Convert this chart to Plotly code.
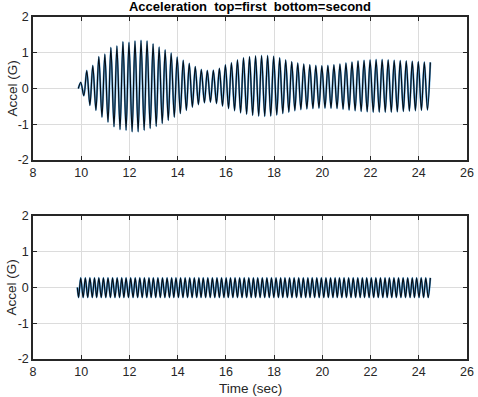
import plotly.graph_objects as go

# ---------------- data ----------------
# Top ("first"): start point, then alternating peaks (maxima / minima)
top_start_t = [9.88]
top_start_v = [0.0]

top_max_t = [9.98, 10.23, 10.48, 10.73, 10.98, 11.23, 11.48, 11.73, 11.98, 12.23,
             12.48, 12.73, 12.98, 13.23, 13.48, 13.73, 13.98, 14.23, 14.48, 14.73,
             14.98, 15.23, 15.48, 15.73, 15.98, 16.23, 16.48, 16.73, 16.98, 17.23,
             17.48, 17.73, 17.98, 18.23, 18.48, 18.73, 18.98, 19.23, 19.48, 19.73,
             19.98, 20.23, 20.48, 20.73, 20.98, 21.23, 21.48, 21.73, 21.98, 22.23,
             22.48, 22.73, 22.98, 23.23, 23.48, 23.73, 23.98, 24.23, 24.48]
top_max_v = [0.17, 0.50, 0.64, 0.89, 0.96, 1.15, 1.19, 1.31, 1.29, 1.33,
             1.35, 1.33, 1.25, 1.16, 1.08, 0.99, 0.88, 0.79, 0.70, 0.61,
             0.53, 0.50, 0.51, 0.56, 0.66, 0.72, 0.80, 0.86, 0.89, 0.91,
             0.92, 0.92, 0.90, 0.86, 0.80, 0.75, 0.71, 0.68, 0.66, 0.64,
             0.63, 0.64, 0.66, 0.68, 0.71, 0.74, 0.77, 0.79, 0.80, 0.81,
             0.81, 0.80, 0.79, 0.78, 0.77, 0.76, 0.75, 0.74, 0.73]
top_min_t = [10.11, 10.36, 10.61, 10.86, 11.11, 11.36, 11.61, 11.86, 12.11, 12.36,
             12.61, 12.86, 13.11, 13.36, 13.61, 13.86, 14.11, 14.36, 14.61, 14.86,
             15.11, 15.36, 15.61, 15.86, 16.11, 16.36, 16.61, 16.86, 17.11, 17.36,
             17.61, 17.86, 18.11, 18.36, 18.61, 18.86, 19.11, 19.36, 19.61, 19.86,
             20.11, 20.36, 20.61, 20.86, 21.11, 21.36, 21.61, 21.86, 22.11, 22.36,
             22.61, 22.86, 23.11, 23.36, 23.61, 23.86, 24.11, 24.36]
top_min_v = [-0.20, -0.47, -0.61, -0.80, -0.94, -1.07, -1.15, -1.17, -1.21, -1.21,
             -1.17, -1.12, -1.06, -0.98, -0.89, -0.80, -0.70, -0.61, -0.52, -0.45,
             -0.40, -0.38, -0.42, -0.49, -0.56, -0.62, -0.68, -0.72, -0.75, -0.77,
             -0.78, -0.77, -0.74, -0.70, -0.66, -0.62, -0.59, -0.57, -0.56, -0.55,
             -0.55, -0.55, -0.56, -0.58, -0.60, -0.62, -0.64, -0.65, -0.66, -0.66,
             -0.66, -0.66, -0.65, -0.64, -0.63, -0.62, -0.61, -0.60]

# Bottom ("second"): constant-amplitude oscillation
bot_start_t = [9.84]
bot_start_v = [0.0]
bot_min_t = [9.89, 10.08, 10.27, 10.46, 10.64, 10.83, 11.02, 11.21, 11.40, 11.59,
             11.77, 11.96, 12.15, 12.34, 12.53, 12.72, 12.90, 13.09, 13.28, 13.47,
             13.66, 13.84, 14.03, 14.22, 14.41, 14.60, 14.79, 14.97, 15.16, 15.35,
             15.54, 15.73, 15.92, 16.10, 16.29, 16.48, 16.67, 16.86, 17.05, 17.23,
             17.42, 17.61, 17.80, 17.99, 18.18, 18.36, 18.55, 18.74, 18.93, 19.12,
             19.31, 19.49, 19.68, 19.87, 20.06, 20.25, 20.44, 20.62, 20.81, 21.00,
             21.19, 21.38, 21.57, 21.75, 21.94, 22.13, 22.32, 22.51, 22.69, 22.88,
             23.07, 23.26, 23.45, 23.64, 23.82, 24.01, 24.20, 24.39]
bot_min_v = [-0.28] * 78
bot_max_t = [9.98, 10.17, 10.36, 10.55, 10.73, 10.92, 11.11, 11.30, 11.49, 11.68,
             11.86, 12.05, 12.24, 12.43, 12.62, 12.81, 12.99, 13.18, 13.37, 13.56,
             13.75, 13.93, 14.12, 14.31, 14.50, 14.69, 14.88, 15.06, 15.25, 15.44,
             15.63, 15.82, 16.01, 16.19, 16.38, 16.57, 16.76, 16.95, 17.14, 17.32,
             17.51, 17.70, 17.89, 18.08, 18.27, 18.45, 18.64, 18.83, 19.02, 19.21,
             19.40, 19.58, 19.77, 19.96, 20.15, 20.34, 20.53, 20.71, 20.90, 21.09,
             21.28, 21.47, 21.66, 21.84, 22.03, 22.22, 22.41, 22.60, 22.78, 22.97,
             23.16, 23.35, 23.54, 23.73, 23.91, 24.10, 24.29, 24.48]
bot_max_v = [0.27] * 78

x_ticks = [8, 10, 12, 14, 16, 18, 20, 22, 24, 26]
x_tick_labels = ["8", "10", "12", "14", "16", "18", "20", "22", "24", "26"]
y_ticks = [-2, -1, 0, 1, 2]
y_tick_labels = ["-2", "-1", "0", "1", "2"]

title_text = "Acceleration  top=first  bottom=second"
y_label = "Accel (G)"
x_label = "Time (sec)"


def merge(st, sv, at, av, bt, bv):
    pts = list(zip(st, sv)) + list(zip(at, av)) + list(zip(bt, bv))
    pts.sort(key=lambda p: p[0])
    return [p[0] for p in pts], [p[1] for p in pts]


top_t, top_v = merge(top_start_t, top_start_v, top_max_t, top_max_v, top_min_t, top_min_v)
bot_t, bot_v = merge(bot_start_t, bot_start_v, bot_max_t, bot_max_v, bot_min_t, bot_min_v)

fig = go.Figure()
for (t, v, xa, ya) in [(top_t, top_v, "x", "y"), (bot_t, bot_v, "x2", "y2")]:
    fig.add_trace(go.Scatter(x=t, y=v, xaxis=xa, yaxis=ya, mode="lines",
                             line=dict(color="#5aa5dc", width=2.0, shape="spline", smoothing=0.9),
                             hoverinfo="skip", showlegend=False))
    fig.add_trace(go.Scatter(x=t, y=v, xaxis=xa, yaxis=ya, mode="lines",
                             line=dict(color="#050d16", width=1.2, shape="spline", smoothing=0.9),
                             showlegend=False))

font_family = "Liberation Sans, Arial, sans-serif"
axis_common = dict(showline=True, linecolor="#262626", linewidth=1.5, mirror="ticks",
                   ticks="inside", ticklen=4, tickcolor="#262626", tickwidth=1,
                   showgrid=True, gridcolor="#dcdcdc", gridwidth=1, zeroline=False,
                   automargin=False,
                   tickfont=dict(family=font_family, size=12.5, color="#262626"))

fig.update_layout(
    width=478, height=397,
    margin=dict(l=33, r=11, t=17, b=38),
    paper_bgcolor="white", plot_bgcolor="white",
    font=dict(family=font_family, color="#262626"),
    title=dict(text="<b>" + title_text + "</b>", x=0.523, xanchor="center",
               y=0.983, yanchor="middle", font=dict(size=13, color="#000000")),
    xaxis=dict(domain=[0, 1], range=[8, 26], tickvals=x_ticks, ticktext=x_tick_labels,
               anchor="y", **axis_common),
    yaxis=dict(domain=[0.582, 1], range=[-2, 2], tickvals=y_ticks, ticktext=y_tick_labels,
               anchor="x", **axis_common),
    xaxis2=dict(domain=[0, 1], range=[8, 26], tickvals=x_ticks, ticktext=x_tick_labels,
                anchor="y2", **axis_common),
    yaxis2=dict(domain=[0, 0.418], range=[-2, 2], tickvals=y_ticks, ticktext=y_tick_labels,
                anchor="x2", **axis_common),
)

label_font = dict(family=font_family, size=13.5, color="#262626")
for dom in ([0.582, 1], [0, 0.418]):
    fig.add_annotation(text=y_label, xref="paper", yref="paper", x=0,
                       y=(dom[0] + dom[1]) / 2, xshift=-21, textangle=-90,
                       xanchor="center", yanchor="middle", showarrow=False, font=label_font)
fig.add_annotation(text=x_label, xref="paper", yref="paper", x=0.5, y=0,
                   yshift=-29, xanchor="center", yanchor="middle", showarrow=False,
                   font=label_font)

fig.write_html("out.html",
               config={"displayModeBar": False},
               post_script="document.body.style.margin='0px';document.body.style.overflow='hidden';")
